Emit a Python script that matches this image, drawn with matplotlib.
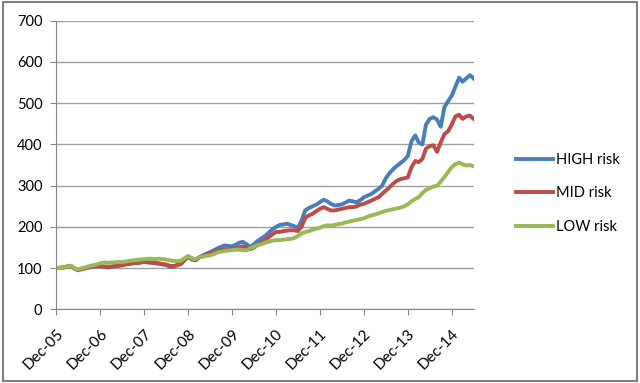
import matplotlib
matplotlib.use("Agg")
import matplotlib.pyplot as plt
import matplotlib.dates as mdates
from matplotlib.patches import Rectangle
import pandas as pd

# monthly index values, Dec-05 .. Jun-15
months = pd.date_range("2005-12-01", "2015-06-01", freq="MS")

high_risk = [
    100, 101, 102, 104, 106, 99, 95, 98, 100, 102, 104, 105,
    105, 104, 102, 103, 105, 106, 108, 110, 111, 113, 112, 114,
    116, 115, 113, 112, 111, 109, 108, 103, 104, 107, 110, 120,
    127, 121, 119, 126, 131, 135, 139, 143, 148, 152, 155, 154,
    153, 157, 162, 164, 158, 152, 158, 166, 172, 178, 186, 194,
    200, 205, 206, 208, 205, 202, 198, 215, 240, 246, 250, 254,
    260, 266, 262, 256, 252, 253, 255, 259, 264, 262, 260, 265,
    272, 276, 280, 286, 292, 300, 318, 330, 340, 348, 355, 362,
    372, 408, 422, 405, 400, 448, 462, 466, 460, 443, 490, 505,
    518, 540, 562, 552, 560, 568, 560,
]
mid_risk = [
    100, 101, 102, 104, 105, 99, 96, 98, 100, 102, 104, 105,
    105, 104, 103, 104, 105, 106, 107, 109, 110, 112, 113, 114,
    115, 114, 114, 113, 112, 110, 109, 106, 105, 108, 110, 120,
    128, 123, 121, 126, 130, 133, 136, 139, 141, 144, 146, 145,
    146, 148, 151, 153, 149, 146, 150, 156, 162, 168, 175, 182,
    188, 188, 190, 191, 192, 192, 190, 200, 222, 228, 232, 238,
    244, 248, 244, 240, 240, 242, 244, 246, 248, 248, 250, 254,
    256, 260, 264, 268, 272, 280, 288, 296, 305, 312, 316, 318,
    320, 345, 360, 357, 365, 390, 396, 398, 382, 405, 425, 432,
    448, 468, 472, 462, 468, 470, 462,
]
low_risk = [
    100, 101, 102, 104, 106, 100, 97, 100, 102, 105, 107, 109,
    112, 114, 113, 114, 114, 115, 115, 116, 118, 119, 120, 121,
    122, 123, 123, 122, 123, 122, 121, 119, 118, 117, 118, 124,
    130, 124, 122, 126, 128, 130, 131, 134, 138, 140, 142, 143,
    144, 145, 145, 144, 143, 148, 152, 156, 158, 162, 164, 167,
    168, 168, 169, 170, 171, 173, 178, 184, 188, 190, 193, 196,
    198, 202, 204, 203, 205, 207, 208, 211, 213, 215, 217, 219,
    221, 225, 228, 230, 233, 236, 239, 241, 243, 245, 247, 250,
    255, 262, 268, 272, 282, 290, 294, 298, 300, 310, 321, 333,
    345, 352, 356, 352, 349, 350, 347,
]

series = [
    ("HIGH risk", high_risk, "#4A7EBB"),
    ("MID risk", mid_risk, "#BE4B48"),
    ("LOW risk", low_risk, "#98B954"),
]
y_ticks = [0, 100, 200, 300, 400, 500, 600, 700]
x_ticks = pd.date_range("2005-12-01", "2014-12-01", freq="12MS")

plt.rcParams["font.family"] = ["Lato", "DejaVu Sans"]

fig = plt.figure(figsize=(6.4, 3.83), dpi=100)
ax = fig.add_axes([0.088, 0.192, 0.652, 0.754])

for name, vals, col in series:
    ax.plot(months, vals, color=col, lw=2.8, label=name, solid_joinstyle="round")

# ── axes styling (Excel look) ────────────────────────────────────────────
ax.set_xlim(months[0], months[-1])
ax.set_ylim(0, 700)
ax.set_yticks(y_ticks)
ax.yaxis.grid(True, color="#a0a0a0", lw=1)
ax.set_axisbelow(True)
for s in ("top", "right"):
    ax.spines[s].set_visible(False)
for s in ("left", "bottom"):
    ax.spines[s].set_color("#868686")
ax.set_xticks(x_ticks)
ax.xaxis.set_major_formatter(mdates.DateFormatter("%b-%y"))
ax.tick_params(axis="both", colors="#868686", labelcolor="black",
               labelsize=11, length=4)
ax.tick_params(axis="y", pad=6, labelsize=10.5)
ax.tick_params(axis="x", pad=8)
plt.setp(ax.get_xticklabels(), rotation=45, ha="right", rotation_mode="anchor")

fig.legend(loc="center left", bbox_to_anchor=(0.795, 0.495), frameon=False,
           fontsize=10.5, handlelength=2.5, handletextpad=0.25,
           labelspacing=1.35, borderpad=0)

# chart border
fig.patches.append(Rectangle((0.004, 0.004), 0.992, 0.99, transform=fig.transFigure,
                             fill=False, edgecolor="#7f7f7f", lw=1.5))

fig.savefig("out.png", dpi=100)
